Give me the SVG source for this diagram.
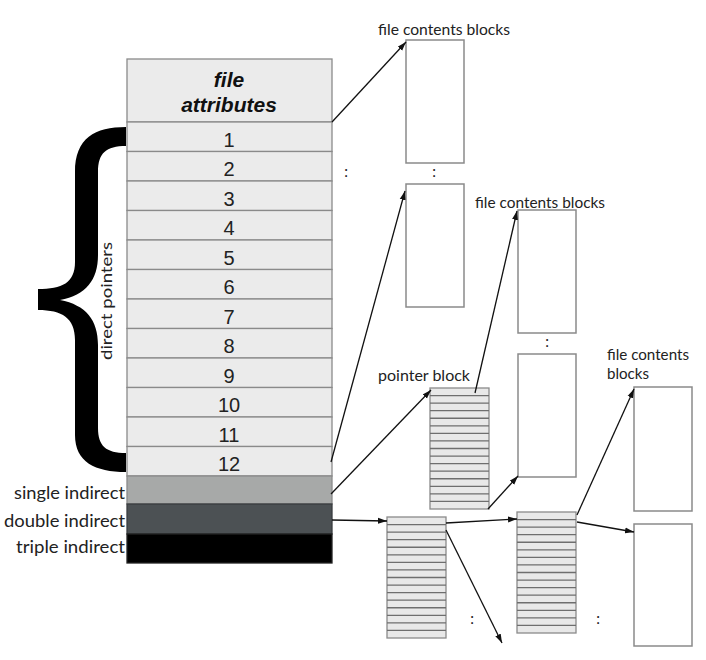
<svg xmlns="http://www.w3.org/2000/svg" xmlns:xlink="http://www.w3.org/1999/xlink" width="706" height="660" viewBox="0 0 706 660">
<style>
.cell{fill:#ebebeb;stroke:#8a8a8a;stroke-width:1.3}
.num{font-family:"Liberation Sans",Arial,sans-serif;font-size:20px;fill:#222;text-anchor:middle}
.attr{font-family:"Liberation Sans",Arial,sans-serif;font-size:21px;font-weight:bold;font-style:italic;fill:#111;text-anchor:middle}
.lbl{font-family:Lato,"Open Sans",sans-serif;font-size:15.5px;fill:#222}
.side{font-family:Lato,"Open Sans",sans-serif;font-size:16.5px;fill:#222}
.dots{font-family:Lato,"Open Sans",sans-serif;font-size:15px;fill:#222;text-anchor:middle}
.blk{fill:#fff;stroke:#8a8a8a;stroke-width:1.5}
.pb{fill:#e8e8e8;stroke:#8a8a8a;stroke-width:1.3}
.pbl{stroke:#6e6e6e;stroke-width:1.3}
.con{stroke:#111;stroke-width:1.3;fill:none;marker-end:url(#ah)}
</style>
<defs>
<marker id="ah" markerUnits="userSpaceOnUse" markerWidth="9" markerHeight="7" refX="9" refY="3.5" orient="auto">
<path d="M0,0.5 L9,3.5 L0,6.5 Z" fill="#111"/>
</marker>
<g id="pblock">
<rect class="pb" x="0" y="0" width="59" height="121"/>
<g class="pbl">
<line x1="0" y1="7.56" x2="59" y2="7.56"/>
<line x1="0" y1="15.13" x2="59" y2="15.13"/>
<line x1="0" y1="22.69" x2="59" y2="22.69"/>
<line x1="0" y1="30.25" x2="59" y2="30.25"/>
<line x1="0" y1="37.81" x2="59" y2="37.81"/>
<line x1="0" y1="45.38" x2="59" y2="45.38"/>
<line x1="0" y1="52.94" x2="59" y2="52.94"/>
<line x1="0" y1="60.5" x2="59" y2="60.5"/>
<line x1="0" y1="68.06" x2="59" y2="68.06"/>
<line x1="0" y1="75.63" x2="59" y2="75.63"/>
<line x1="0" y1="83.19" x2="59" y2="83.19"/>
<line x1="0" y1="90.75" x2="59" y2="90.75"/>
<line x1="0" y1="98.31" x2="59" y2="98.31"/>
<line x1="0" y1="105.88" x2="59" y2="105.88"/>
<line x1="0" y1="113.44" x2="59" y2="113.44"/>
</g>
</g>
</defs>
<rect width="706" height="660" fill="#fff"/>

<g id="inode">
<rect class="cell" x="127" y="59" width="205" height="63"/>
<text class="attr" x="229" y="87">file</text>
<text class="attr" x="229" y="112">attributes</text>
<rect class="cell" x="127" y="122" width="205" height="29.5"/>
<rect class="cell" x="127" y="151.5" width="205" height="29.5"/>
<rect class="cell" x="127" y="181" width="205" height="29.5"/>
<rect class="cell" x="127" y="210.5" width="205" height="29.5"/>
<rect class="cell" x="127" y="240" width="205" height="29.5"/>
<rect class="cell" x="127" y="269.5" width="205" height="29.5"/>
<rect class="cell" x="127" y="299" width="205" height="29.5"/>
<rect class="cell" x="127" y="328.5" width="205" height="29.5"/>
<rect class="cell" x="127" y="358" width="205" height="29.5"/>
<rect class="cell" x="127" y="387.5" width="205" height="29.5"/>
<rect class="cell" x="127" y="417" width="205" height="29.5"/>
<rect class="cell" x="127" y="446.5" width="205" height="29.5"/>
<text class="num" x="229" y="146.5">1</text>
<text class="num" x="229" y="176">2</text>
<text class="num" x="229" y="205.5">3</text>
<text class="num" x="229" y="235">4</text>
<text class="num" x="229" y="264.5">5</text>
<text class="num" x="229" y="294">6</text>
<text class="num" x="229" y="323.5">7</text>
<text class="num" x="229" y="353">8</text>
<text class="num" x="229" y="382.5">9</text>
<text class="num" x="229" y="412">10</text>
<text class="num" x="229" y="441.5">11</text>
<text class="num" x="229" y="471">12</text>
<rect x="127" y="476" width="205" height="28" fill="#a7a9a8" stroke="#8a8a8a" stroke-width="1.3"/>
<rect x="127" y="504" width="205" height="30" fill="#4c5154" stroke="#3a3d40" stroke-width="1.3"/>
<rect x="127" y="534" width="205" height="29" fill="#000" stroke="#222" stroke-width="1.3"/>
<text class="side" x="14" y="499" textLength="111" lengthAdjust="spacingAndGlyphs">single indirect</text>
<text class="side" x="4" y="527" textLength="121" lengthAdjust="spacingAndGlyphs">double indirect</text>
<text class="side" x="16" y="553" textLength="109" lengthAdjust="spacingAndGlyphs">triple indirect</text>
</g>

<g id="brace">
<path d="M126,127 C95,127 75,138 75,172 L75,262 C75,283 62,289 38,289 L38,310 C62,310 75,318 75,340 L75,435 C75,462 95,472 126,472 L126,453 C106,453 98,446 98,428 L98,345 C98,320 86,305 60,300 C86,295 98,280 98,255 L98,172 C98,153 106,146 126,146 Z" fill="#000"/>
<text class="lbl" transform="translate(112,360) rotate(-90)" style="font-size:16px" textLength="118" lengthAdjust="spacingAndGlyphs">direct pointers</text>
</g>

<g id="data-blocks">
<rect class="blk" x="406" y="40" width="58" height="123"/>
<rect class="blk" x="406" y="184" width="58" height="123"/>
<rect class="blk" x="518" y="210" width="58" height="123"/>
<rect class="blk" x="518" y="354" width="58" height="123"/>
<rect class="blk" x="634" y="387" width="58" height="124"/>
<rect class="blk" x="634" y="524" width="58" height="122"/>
<text class="lbl" x="378" y="35" textLength="132" lengthAdjust="spacingAndGlyphs">file contents blocks</text>
<text class="lbl" x="475" y="208" textLength="130" lengthAdjust="spacingAndGlyphs">file contents blocks</text>
<text class="lbl" x="607" y="360" textLength="82" lengthAdjust="spacingAndGlyphs">file contents</text>
<text class="lbl" x="607" y="379" textLength="42" lengthAdjust="spacingAndGlyphs">blocks</text>
</g>

<g id="pointer-blocks">
<use xlink:href="#pblock" x="430" y="388"/>
<use xlink:href="#pblock" x="387" y="517"/>
<use xlink:href="#pblock" x="517" y="512"/>
<text class="lbl" x="378" y="381" textLength="92" lengthAdjust="spacingAndGlyphs">pointer block</text>
</g>

<g id="ellipses">
<text class="dots" x="346" y="177">:</text>
<text class="dots" x="434" y="177">:</text>
<text class="dots" x="547" y="347">:</text>
<text class="dots" x="472" y="624">:</text>
<text class="dots" x="598" y="624">:</text>
</g>

<g id="connectors">
<line class="con" x1="332" y1="122" x2="406" y2="42"/>
<line class="con" x1="331" y1="462" x2="405" y2="191"/>
<line class="con" x1="331" y1="494" x2="431" y2="390"/>
<line class="con" x1="475" y1="393" x2="517" y2="211"/>
<line class="con" x1="488" y1="509" x2="518" y2="476"/>
<line class="con" x1="332" y1="520" x2="387" y2="521"/>
<line class="con" x1="446" y1="523" x2="517" y2="519"/>
<line class="con" x1="446" y1="530" x2="502" y2="643"/>
<line class="con" x1="577" y1="515" x2="634" y2="389"/>
<line class="con" x1="577" y1="522" x2="634" y2="532"/>
</g>
</svg>
